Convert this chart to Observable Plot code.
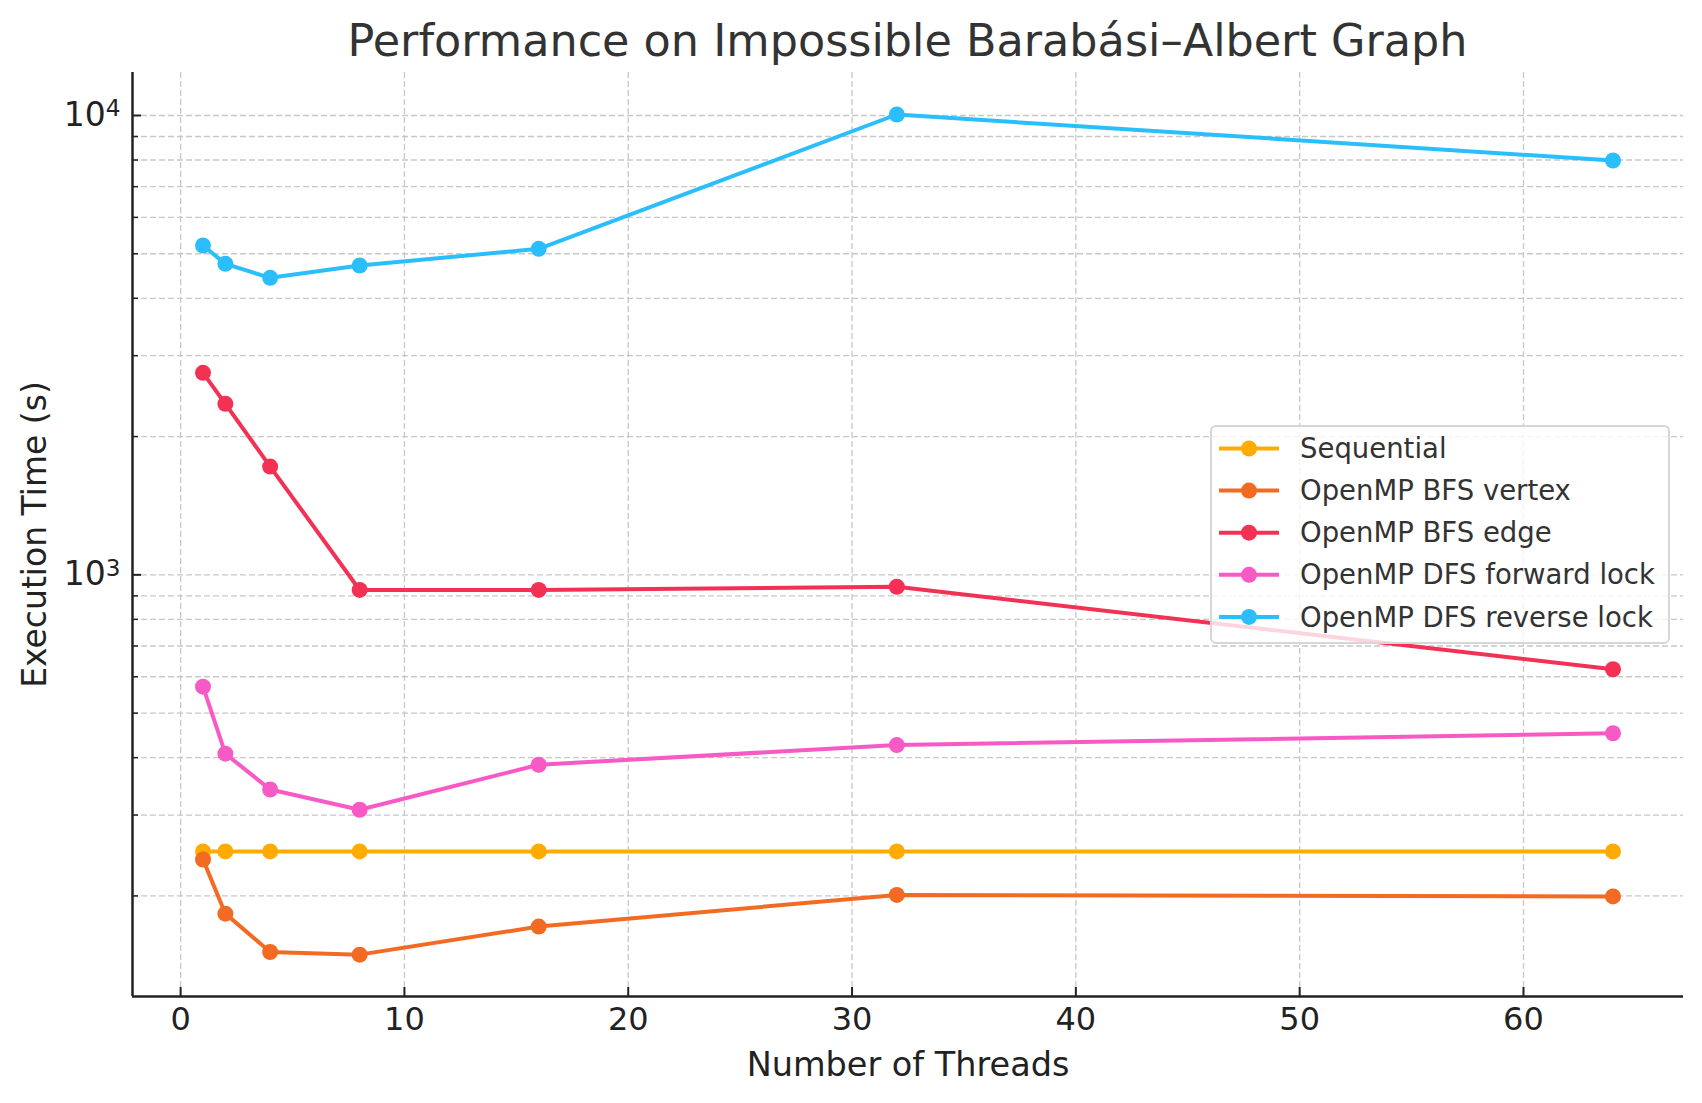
<!DOCTYPE html>
<html><head><meta charset="utf-8">
<script src="https://cdn.jsdelivr.net/npm/d3@7"></script>
<script src="https://cdn.jsdelivr.net/npm/@observablehq/plot@0.6"></script>
<style>
body{margin:0;background:#fff;font-family:"DejaVu Sans",sans-serif;}
#wrap{position:relative;width:1702px;height:1103px;overflow:hidden;}
#title{height:64px;padding-top:6px;line-height:70px;padding-left:132px;width:1551px;text-align:center;font-size:44.5px;color:#333;white-space:nowrap;}
#legend{position:absolute;left:1210px;top:425px;width:456px;height:215px;border:2px solid #d6d6d6;border-radius:6px;background:rgba(255,255,255,0.8);}
</style></head>
<body>
<div id="wrap">
  <div id="title">Performance on Impossible Barabási–Albert Graph</div>
  <div id="chart"></div>
  <div id="legend"></div>
</div>
<script>
const threads = [1, 2, 4, 8, 16, 32, 64];
const sequential = [250, 250, 250, 250, 250, 250, 250];
const bfsVertex = [240, 183, 151, 149, 171.5, 201, 199.5];
const bfsEdge = [2753, 2357, 1721, 927, 927, 942, 623];
const dfsForward = [571, 408, 341, 308, 386, 426, 452];
const dfsReverse = [5212, 4754, 4432, 4714, 5126, 10050, 7980];

const seriesNames = ["Sequential", "OpenMP BFS vertex", "OpenMP BFS edge", "OpenMP DFS forward lock", "OpenMP DFS reverse lock"];
const seriesValues = [sequential, bfsVertex, bfsEdge, dfsForward, dfsReverse];
const seriesColors = ["#ffab00", "#f36a23", "#f33155", "#f85ac5", "#2bbefd"];

const xTicks = [0, 10, 20, 30, 40, 50, 60];
const yMajorTicks = [1000, 10000];
const yMajorLabels = {1000: "3", 10000: "4"};
const yMinorTicks = [200, 300, 400, 500, 600, 700, 800, 900, 2000, 3000, 4000, 5000, 6000, 7000, 8000, 9000];
const xDomain = [-2.15, 67.15];
const yDomain = [120.8, 12405];

const rows = seriesNames.flatMap((name, i) =>
  threads.map((t, j) => ({series: name, threads: t, time: seriesValues[i][j]})));

const gridStyle = {stroke: "#c8c8c8", strokeOpacity: 1, strokeDasharray: "6,3", strokeWidth: 1.3};

const seriesMarks = seriesNames.flatMap((name) => {
  const d = rows.filter(r => r.series === name);
  return [
    Plot.line(d, {x: "threads", y: "time", stroke: "series", strokeWidth: 4, strokeLinejoin: "round"}),
    Plot.dot(d, {x: "threads", y: "time", fill: "series", r: 8, stroke: "none"})
  ];
});

const chart = Plot.plot({
  width: 1702,
  height: 1033,
  marginTop: 2,
  marginBottom: 107,
  marginLeft: 132,
  marginRight: 19,
  style: {fontFamily: "DejaVu Sans", fontSize: "32px", color: "#222", background: "white", overflow: "visible"},
  x: {domain: xDomain},
  y: {type: "log", domain: yDomain},
  color: {domain: seriesNames, range: seriesColors},
  marks: [
    Plot.gridX(xTicks, gridStyle),
    Plot.gridY([...yMinorTicks, ...yMajorTicks], gridStyle),
    ...seriesMarks,
    Plot.axisX(xTicks, {tickSize: 9, dy: -9, fill: "none", stroke: "#222", strokeWidth: 2, label: null}),
    Plot.axisX(xTicks, {tickSize: 0, tickPadding: 11, stroke: "none", fill: "#222", fontSize: 32,
      label: null}),
    Plot.axisX([], {tickSize: 0, stroke: "none", fill: "#222", fontSize: 33.5,
      label: "Number of Threads", labelAnchor: "center", labelArrow: "none", labelOffset: 79}),
    Plot.axisY(yMajorTicks, {tickSize: 9, dx: 9, fill: "none", stroke: "#222", strokeWidth: 2, label: null}),
    Plot.axisY(yMinorTicks, {tickSize: 6, dx: 6, fill: "none", stroke: "#222", strokeWidth: 1.5, label: null}),
    Plot.axisY(yMajorTicks, {tickSize: 0, tickPadding: 12, stroke: "none", fill: "#222", fontSize: 33,
      tickFormat: d => "10" + yMajorLabels[d], label: null}),
    Plot.axisY([], {tickSize: 0, stroke: "none", fill: "#222", fontSize: 33,
      label: "Execution Time (s)", labelAnchor: "center", labelArrow: "none", labelOffset: 110}),
    Plot.ruleX([xDomain[0]], {stroke: "#222", strokeWidth: 2.5}),
    Plot.ruleY([yDomain[0]], {stroke: "#222", strokeWidth: 2.5})
  ]
});
document.getElementById("chart").appendChild(chart);

// turn the exponent of the y tick labels into a raised superscript
d3.select(chart).selectAll('g[aria-label="y-axis tick label"] text').each(function() {
  const t = d3.select(this);
  const s = t.text();
  if (!s.startsWith("10")) return;
  const exp = s.slice(2);
  t.text("10");
  t.append("tspan").attr("dy", "-0.42em").attr("font-size", "0.7em").text(exp);
});

// legend
const lg = d3.select("#legend").append("svg").attr("width", 456).attr("height", 215)
  .style("font-family", "DejaVu Sans").style("display", "block");
seriesNames.forEach((name, i) => {
  const g = lg.append("g").attr("transform", `translate(0,${21.5 + i * 42.1})`);
  g.append("line").attr("x1", 7).attr("x2", 67).attr("y1", 0).attr("y2", 0)
    .attr("stroke", seriesColors[i]).attr("stroke-width", 4);
  g.append("circle").attr("cx", 37).attr("cy", 0).attr("r", 8).attr("fill", seriesColors[i]);
  g.append("text").attr("x", 88).attr("y", 0).attr("dy", "0.35em")
    .attr("font-size", 27.5).attr("fill", "#333").text(name);
});
</script>
</body></html>
